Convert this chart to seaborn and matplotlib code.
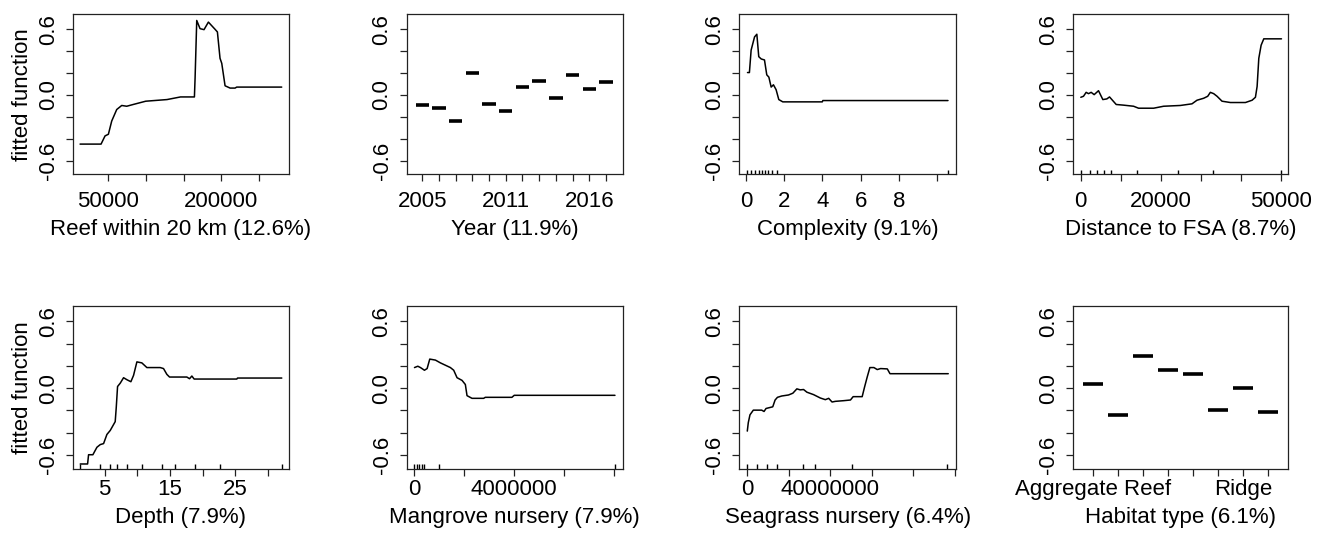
import numpy as np
import pandas as pd
import matplotlib
matplotlib.use("Agg")
import matplotlib.pyplot as plt
import seaborn as sns

# ---------------- data ----------------
reef_x = [12300, 40240, 45560, 50000, 54440, 61090, 67750, 74400, 83000, 99700,
          128000, 137000, 146000, 164500, 165400, 167600, 172000, 177300, 183100, 192000,
          195100, 198600, 200900, 205300, 212000, 218600, 220800, 280700]
reef_y = [-0.449, -0.449, -0.374, -0.359, -0.238, -0.133, -0.096, -0.103, -0.087, -0.057,
          -0.042, -0.030, -0.018, -0.018, 0.154, 0.681, 0.606, 0.597, 0.666, 0.600,
          0.576, 0.335, 0.289, 0.084, 0.063, 0.063, 0.072, 0.072]

year_levels = [2005, 2006, 2007, 2008, 2009, 2011, 2012, 2013, 2014, 2015, 2016, 2017]
year_vals = [-0.090, -0.121, -0.235, 0.199, -0.078, -0.151, 0.072, 0.127, -0.030, 0.187, 0.051, 0.118]
year_tick_labels = ["2005", "", "", "", "", "2011", "", "", "", "", "2016", ""]

complexity_x = [0.07, 0.17, 0.26, 0.44, 0.56, 0.66, 0.79, 0.96, 1.08, 1.19,
                1.31, 1.43, 1.57, 1.71, 1.92, 3.99, 4.02, 10.58]
complexity_y = [0.205, 0.205, 0.41, 0.531, 0.555, 0.350, 0.329, 0.320, 0.184, 0.163,
                0.072, 0.093, 0.048, -0.042, -0.063, -0.063, -0.051, -0.051]
complexity_rug = [0.05, 0.25, 0.47, 0.65, 0.82, 1.0, 1.17, 1.35, 1.6, 10.6]

distance_x = [0, 666, 1331, 1914, 2580, 3330, 4410, 5490, 6490, 7155,
              8820, 10650, 13150, 14390, 18140, 20630, 24790, 27700, 28950, 30620,
              31620, 32280, 33110, 33950, 35190, 37270, 41020, 42680, 43510, 43930,
              44350, 44930, 45590, 50000]
distance_y = [-0.021, -0.012, 0.024, 0.012, 0.024, 0.003, 0.039, -0.042, -0.036, -0.018,
              -0.087, -0.093, -0.103, -0.121, -0.121, -0.103, -0.096, -0.081, -0.048, -0.030,
              -0.012, 0.024, 0.012, -0.012, -0.057, -0.069, -0.069, -0.048, -0.021, 0.078,
              0.335, 0.455, 0.513, 0.513]
distance_rug = [0, 2200, 4000, 5700, 7400, 14100, 24200, 32900, 50000]

depth_x = [1.28, 2.40, 2.55, 3.21, 3.83, 4.34, 4.85, 5.36, 5.87, 6.63,
           6.79, 6.99, 7.40, 7.91, 8.42, 9.03, 9.44, 9.95, 10.71, 11.48,
           13.52, 14.03, 14.54, 14.95, 17.60, 18.01, 18.37, 18.72, 25.26, 25.36, 32.14]
depth_y = [-0.68, -0.68, -0.597, -0.597, -0.53, -0.506, -0.497, -0.415, -0.379, -0.30,
           -0.173, 0.015, 0.045, 0.094, 0.076, 0.058, 0.115, 0.236, 0.227, 0.185,
           0.185, 0.176, 0.124, 0.1, 0.1, 0.085, 0.109, 0.082, 0.082, 0.091, 0.091]
depth_rug = [1.28, 4.34, 5.87, 6.89, 8.42, 10.71, 13.78, 15.82, 18.88, 22.70, 32.14]

mangrove_x = [0, 133000, 240000, 400000, 507000, 613000, 840000, 1040000, 1240000, 1440000,
              1573000, 1707000, 1907000, 2040000, 2107000, 2307000, 2773000, 2840000,
              3907000, 4000000, 8040000]
mangrove_y = [0.185, 0.197, 0.185, 0.161, 0.176, 0.261, 0.252, 0.227, 0.206, 0.185,
              0.161, 0.094, 0.07, 0.033, -0.067, -0.091, -0.091, -0.082,
              -0.082, -0.064, -0.064]
mangrove_rug = [0, 100000, 200000, 300000, 400000, 970000, 8040000]

seagrass_x = [0, 480000, 1290000, 2900000, 6940000, 8060000, 9030000, 10970000, 12260000, 13390000,
              14520000, 16610000, 19840000, 21940000, 23870000, 25480000, 27100000, 28710000,
              31940000, 35160000, 37580000, 39190000, 40810000, 42420000, 46450000, 49680000,
              50970000, 55320000, 56450000, 57740000, 59030000, 60970000, 62580000, 64190000,
              67420000, 68710000, 96770000]
seagrass_y = [-0.385, -0.309, -0.239, -0.197, -0.197, -0.209, -0.182, -0.173, -0.167, -0.106,
              -0.082, -0.07, -0.061, -0.045, -0.006, -0.015, -0.012, -0.036,
              -0.058, -0.088, -0.103, -0.091, -0.124, -0.118, -0.112, -0.106,
              -0.076, -0.076, 0.009, 0.1, 0.185, 0.185, 0.167, 0.176,
              0.173, 0.130, 0.130]
seagrass_rug = [0, 4500000, 9600000, 14100000, 26600000, 32600000, 50200000, 96300000]

habitat_levels = ["Aggregate Reef", "Aggregated Patch Reef", "Colonized Pavement",
                  "Individual Patch Reef", "Pavement", "Reef Rubble", "Ridge", "Spur and Groove"]
habitat_vals = [0.039, -0.239, 0.285, 0.164, 0.130, -0.194, 0.0, -0.218]
habitat_tick_labels = ["Aggregate Reef", "", "", "", "", "", "Ridge", ""]

x_labels = ["Reef within 20 km (12.6%)", "Year (11.9%)", "Complexity (9.1%)",
            "Distance to FSA (8.7%)", "Depth (7.9%)", "Mangrove nursery (7.9%)",
            "Seagrass nursery (6.4%)", "Habitat type (6.1%)"]
y_label = "fitted function"
y_ticks = [-0.6, -0.4, -0.2, 0.0, 0.2, 0.4, 0.6]
y_tick_labels = ["-0.6", "", "", "0.0", "", "", "0.6"]

# ---------------- style ----------------
sns.set_theme(style="white")
plt.rcParams['font.family'] = ['Liberation Sans', 'DejaVu Sans']
plt.rcParams['axes.edgecolor'] = '#222222'
plt.rcParams['axes.linewidth'] = 0.9
plt.rcParams['text.color'] = 'black'
plt.rcParams['axes.labelcolor'] = 'black'
plt.rcParams['xtick.color'] = '#222222'
plt.rcParams['ytick.color'] = '#222222'
plt.rcParams['xtick.labelcolor'] = 'black'
plt.rcParams['ytick.labelcolor'] = 'black'

W, H = 1318, 536
fig = plt.figure(figsize=(W / 100, H / 100), dpi=100)
fig.patch.set_facecolor("white")

col_left = [72.7, 406.5, 739.3, 1073.3]
col_w = [216, 216.2, 216.7, 215]
row_top = [14, 305.7]
row_bottom = [174.3, 469]

FS = 16
axes = []
for r in range(2):
    for c in range(4):
        l = col_left[c] / W
        b = (H - row_bottom[r]) / H
        h = (row_bottom[r] - row_top[r]) / H
        ax = fig.add_axes([l, b, col_w[c] / W, h])
        axes.append(ax)


def line_panel(ax, xs, ys):
    df = pd.DataFrame({"x": xs, "y": ys})
    sns.lineplot(data=df, x="x", y="y", ax=ax, color="black", lw=1.1,
                 estimator=None, sort=False, legend=False)


def factor_panel(ax, vals, half=0.4):
    rows = []
    for i, v in enumerate(vals):
        rows.append({"x": i + 1 - half, "y": v, "u": i})
        rows.append({"x": i + 1 + half, "y": v, "u": i})
    df = pd.DataFrame(rows)
    sns.lineplot(data=df, x="x", y="y", units="u", ax=ax, color="black", lw=2.6,
                 estimator=None, sort=False, legend=False, solid_capstyle="butt")


def rug(ax, vals):
    sns.rugplot(x=vals, ax=ax, height=0.028, color="black", lw=0.9, expand_margins=False)


line_panel(axes[0], reef_x, reef_y)
factor_panel(axes[1], year_vals)
line_panel(axes[2], complexity_x, complexity_y)
rug(axes[2], complexity_rug)
line_panel(axes[3], distance_x, distance_y)
rug(axes[3], distance_rug)
line_panel(axes[4], depth_x, depth_y)
rug(axes[4], depth_rug)
line_panel(axes[5], mangrove_x, mangrove_y)
rug(axes[5], mangrove_rug)
line_panel(axes[6], seagrass_x, seagrass_y)
rug(axes[6], seagrass_rug)
factor_panel(axes[7], habitat_vals)

xlims = [(2500, 290000), (0.06, 13.0), (-0.36, 11.0), (-1870, 51700),
         (0.12, 33.2), (-320000, 8350000), (-3850000, 100500000), (0.2, 8.8)]
xticks = [[50000, 100000, 150000, 200000, 250000],
          list(range(1, len(year_levels) + 1)),
          [0, 2, 4, 6, 8, 10],
          [0, 10000, 20000, 30000, 40000, 50000],
          [5, 10, 15, 20, 25, 30],
          [0, 2000000, 4000000, 6000000, 8000000],
          [0, 20000000, 40000000, 60000000, 80000000, 100000000],
          list(range(1, len(habitat_levels) + 1))]
xticklabels = [["50000", "", "", "200000", ""],
               year_tick_labels,
               ["0", "2", "4", "6", "8", ""],
               ["0", "", "20000", "", "", "50000"],
               ["5", "", "15", "", "25", ""],
               ["0", "", "4000000", "", ""],
               ["0", "", "40000000", "", "", ""],
               habitat_tick_labels]

for i, ax in enumerate(axes):
    r = i // 4
    ax.set_facecolor("white")
    ax.set_xlim(*xlims[i])
    ax.set_ylim(-0.725, 0.74)
    ax.set_xticks(xticks[i])
    ax.set_xticklabels(xticklabels[i], fontsize=FS)
    ax.set_yticks(y_ticks)
    ax.set_yticklabels(y_tick_labels, fontsize=FS, rotation=90, va="center")
    ax.tick_params(axis="both", direction="out", length=5, width=0.9,
                   bottom=True, left=True)
    ax.tick_params(axis="x", pad=7.0 if r == 0 else 2.5)
    ax.tick_params(axis="y", pad=5.0)
    for s in ax.spines.values():
        s.set_visible(True)
        s.set_color("#222222")
        s.set_linewidth(0.9)
    ax.set_xlabel(x_labels[i], fontsize=FS)
    ax.xaxis.set_label_coords(0.5, -0.279 if r == 0 else -0.232)
    if i % 4 == 0:
        ax.set_ylabel(y_label, fontsize=FS)
        ax.yaxis.set_label_coords(-0.185, 0.5)
    else:
        ax.set_ylabel("")

fig.savefig("out.png", dpi=100, facecolor="white")
